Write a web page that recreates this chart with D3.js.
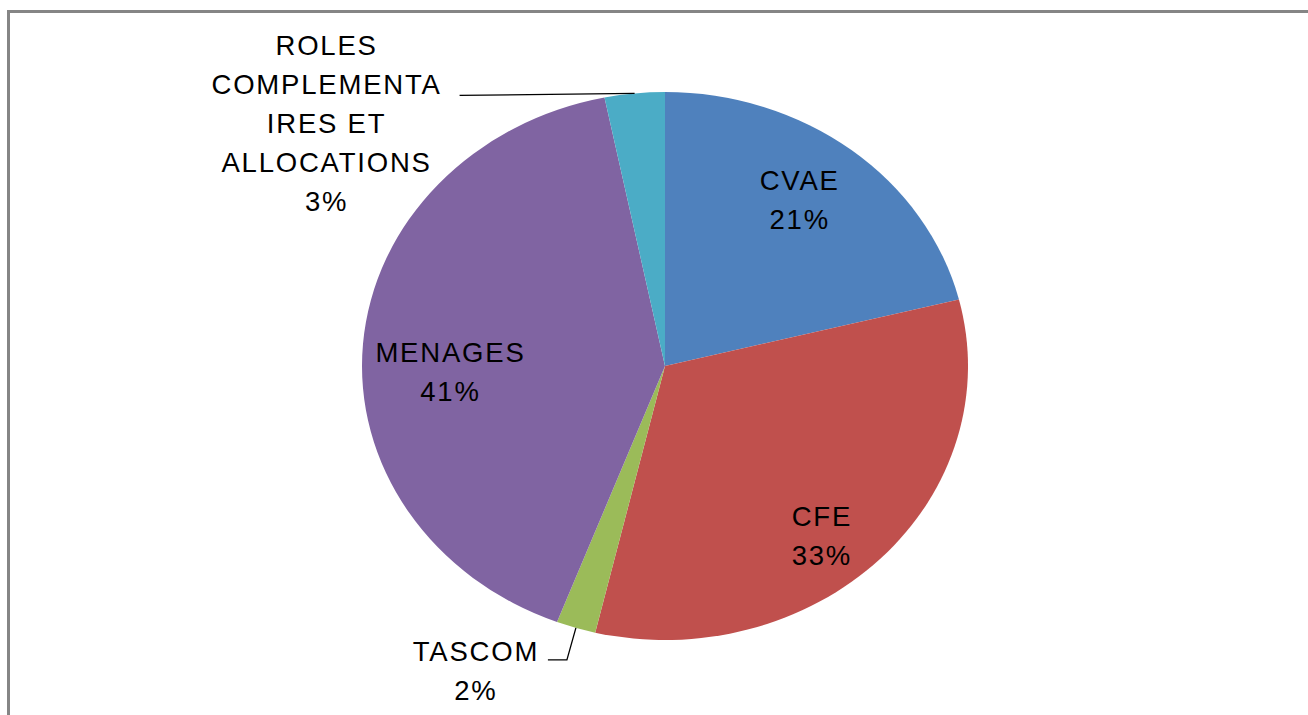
<!DOCTYPE html>
<html>
<head>
<meta charset="utf-8">
<script src="https://cdn.jsdelivr.net/npm/d3@7"></script>
<style>
  body { margin: 0; background: #fff; }
  text { font-family: "Liberation Sans", Arial, sans-serif; font-size: 27.5px; fill: #000; letter-spacing: 1.8px; }
</style>
</head>
<body>
<svg width="1308" height="715"></svg>
<script>
const categories = ['CVAE', 'CFE', 'TASCOM', 'MENAGES', 'ROLES COMPLEMENTAIRES ET ALLOCATIONS'];
const values = [21.1, 32.6, 2.1, 41.0, 3.2];
const colors = ['#4f81bd', '#c0504d', '#9bbb59', '#8064a2', '#4bacc6'];
// how each label is broken into lines (as in the original chart)
const labelLines = [['CVAE'], ['CFE'], ['TASCOM'], ['MENAGES'], ['ROLES', 'COMPLEMENTA', 'IRES ET', 'ALLOCATIONS']];

const svg = d3.select('svg');
const width = +svg.attr('width');
const height = +svg.attr('height');

// frame
svg.append('rect')
    .attr('x', 8.5).attr('y', 11.5)
    .attr('width', width + 20).attr('height', height + 20)
    .attr('fill', 'none')
    .attr('stroke', '#858585')
    .attr('stroke-width', 3);

const cx = 665, cy = 366;
const rx = 303, ry = 274;
const lineH = 39;

const data = categories.map((c, i) => ({ name: c, value: values[i], color: colors[i], lines: labelLines[i] }));
const total = d3.sum(values);

const pie = d3.pie().sort(null).value(d => d.value);
const arcs = pie(data);
const arc = d3.arc().innerRadius(0).outerRadius(ry);

// pie is slightly wider than tall
const g = svg.append('g')
    .attr('transform', `translate(${cx},${cy}) scale(${rx / ry},1)`);

g.selectAll('path')
    .data(arcs)
    .enter().append('path')
    .attr('d', arc)
    .attr('fill', d => d.data.color);

// point on the ellipse at angle a (clockwise from top), fraction k of radius
const pt = (a, k) => [cx + rx * k * Math.sin(a), cy - ry * k * Math.cos(a)];
const mid = d => (d.startAngle + d.endAngle) / 2;

const pct = d => Math.round(d.value / total * 100) + '%';

function drawLabel(lines, x, yTop) {
    const t = svg.append('text').attr('text-anchor', 'middle');
    lines.forEach((l, i) => {
        t.append('tspan').attr('x', x).attr('y', yTop + i * lineH).text(l);
    });
}

// inside labels: centroid at 0.76 of radius, small nudges like Excel's placement
const nudge = { CVAE: [-7, -2], CFE: [-7, 23], MENAGES: [15, 22] };
arcs.filter(d => nudge[d.data.name]).forEach(d => {
    const [x, y] = pt(mid(d), 0.76);
    const [nx, ny] = nudge[d.data.name];
    const lines = d.data.lines.concat([pct(d.data)]);
    const yTop = y + ny - (lines.length - 1) * lineH / 2 + 10;
    drawLabel(lines, x + nx, yTop);
});

// outside labels with leader lines
const tascom = arcs[2];
const [tx, ty] = pt(mid(tascom), 1);
svg.append('path')
    .attr('d', `M${tx},${ty}L${tx - 9},${ty + 32}L${tx - 28},${ty + 32}`)
    .attr('fill', 'none').attr('stroke', '#000').attr('stroke-width', 1.3);
drawLabel(tascom.data.lines.concat([pct(tascom.data)]), tx - 100, ty + 33);

const roles = arcs[4];
const [rx0, ry0] = pt(mid(roles), 1);
svg.append('path')
    .attr('d', `M${rx0},${ry0}L${rx0 - 175},${ry0 + 2}`)
    .attr('fill', 'none').attr('stroke', '#000').attr('stroke-width', 1.3);
drawLabel(roles.data.lines.concat([pct(roles.data)]), rx0 - 308, ry0 - 38);
</script>
</body>
</html>
